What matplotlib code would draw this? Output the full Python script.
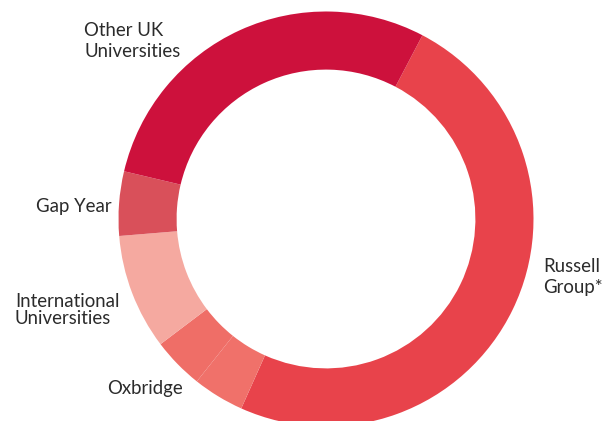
import matplotlib
matplotlib.use("Agg")
import matplotlib.pyplot as plt

# destination shares (%), clockwise from Russell Group
labels = ["Russell Group*", "Oxbridge", "Oxbridge", "International Universities", "Gap Year", "Other UK Universities"]
shares = [49, 4, 4, 9, 5, 29]
colors = ["#E8434B", "#F0716A", "#EF6E67", "#F5A9A0", "#D9505A", "#CD113C"]

# label text lines and where they sit (pixels from top-left, baseline)
label_lines = [
    ("Other UK", 84, 36), ("Universities", 84, 57),
    ("Gap Year", 36, 212),
    ("International", 15, 307), ("Universities", 15, 324),
    ("Oxbridge", 107, 394),
    ("Russell", 543, 272), ("Group*", 543, 293),
]

W, H = 610, 421
fig = plt.figure(figsize=(W / 100, H / 100), dpi=100)
cx, cy, r = 326, 219, 207.5
ax = fig.add_axes([(cx - r) / W, (H - cy - r) / H, 2 * r / W, 2 * r / H])
ax.pie(shares, colors=colors, startangle=62.3, counterclock=False,
       wedgeprops=dict(width=0.28, linewidth=0))
ax.set_xlim(-1, 1)
ax.set_ylim(-1, 1)
ax.axis("off")

for txt, x, y in label_lines:
    fig.text(x / W, 1 - y / H, txt, ha="left", va="baseline",
             fontsize=13.4, color="#2b2b2b", family="Lato")

fig.savefig("out.png", dpi=100)
